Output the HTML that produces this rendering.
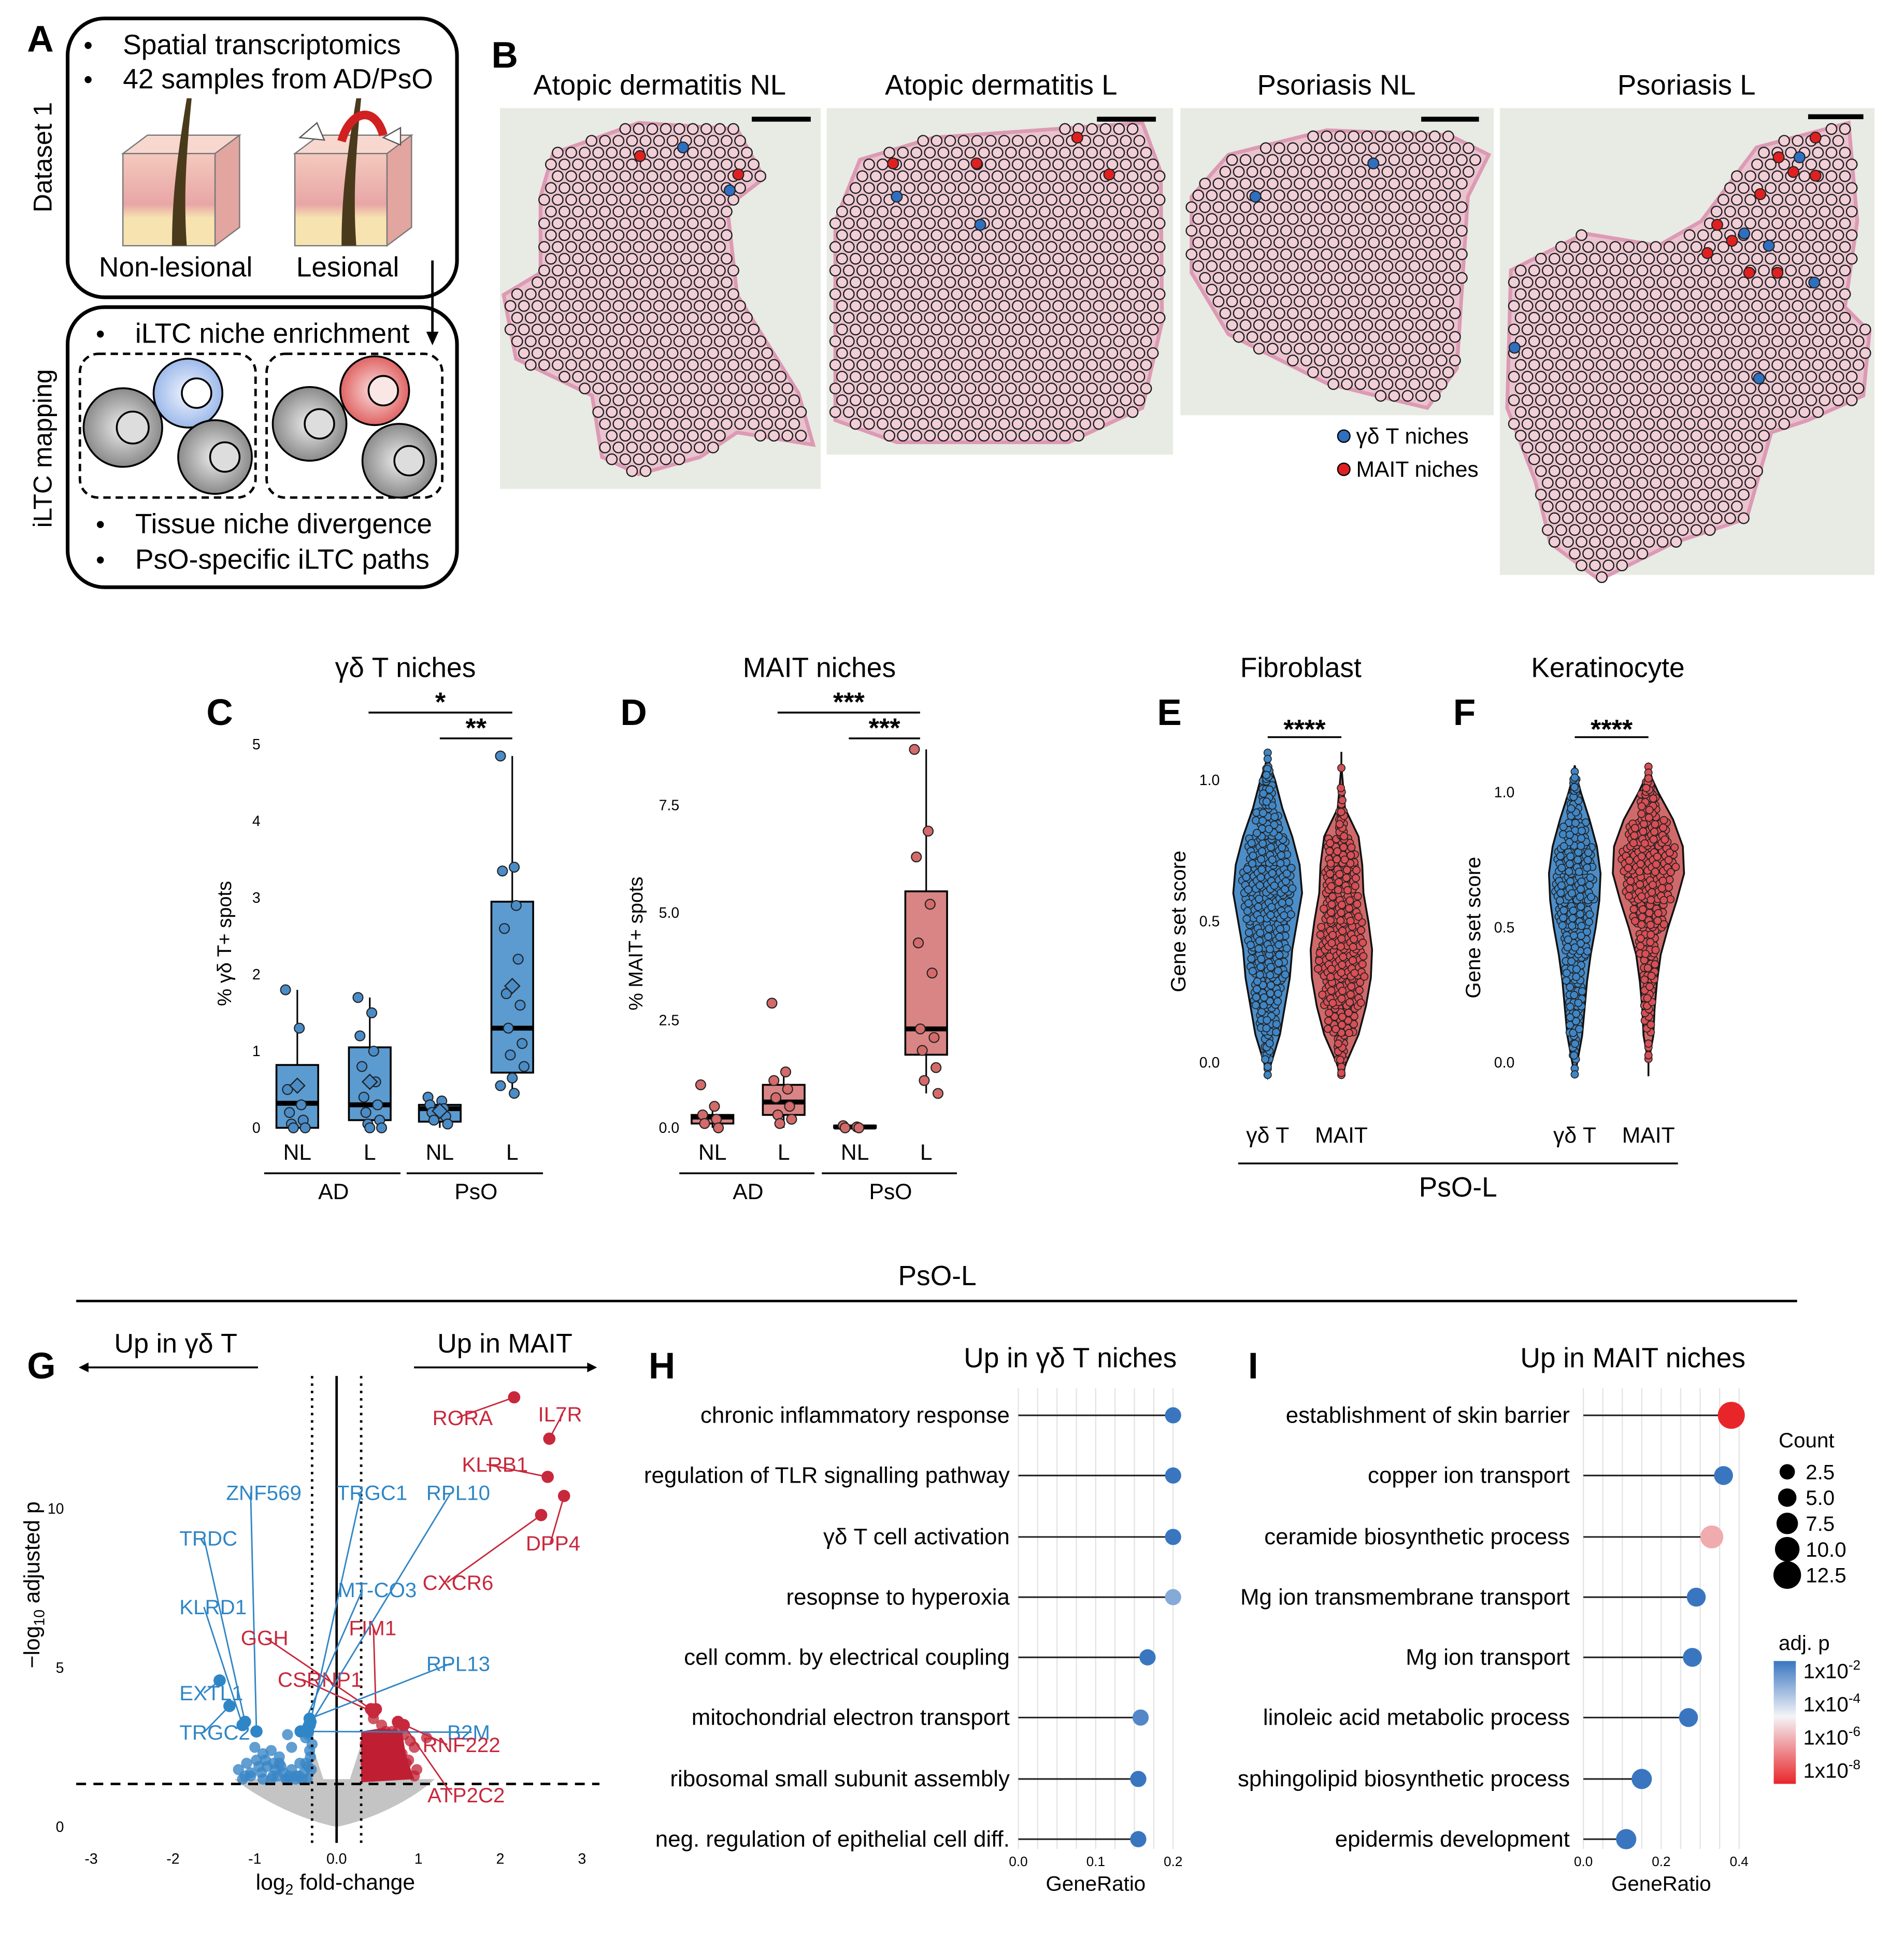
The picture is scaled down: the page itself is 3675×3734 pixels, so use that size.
<!DOCTYPE html>
<html><head><meta charset="utf-8">
<style>
html,body{margin:0;padding:0;background:#fff}
svg{display:block;font-family:"Liberation Sans",Arial,sans-serif}
</style></head>
<body>
<svg id="fig" width="3675" height="3734" viewBox="0 0 1550 1575" xmlns="http://www.w3.org/2000/svg">
<defs>
<linearGradient id="skinG" x1="0" y1="0" x2="0" y2="1"><stop offset="0" stop-color="#f4c9bd"/><stop offset="0.55" stop-color="#e8a6a6"/><stop offset="0.7" stop-color="#f7e3b0"/><stop offset="1" stop-color="#f7e3b0"/></linearGradient>
<radialGradient id="grayCell"><stop offset="0" stop-color="#eee"/><stop offset="1" stop-color="#8a8a8a"/></radialGradient>
<radialGradient id="blueCell"><stop offset="0" stop-color="#f2f6ff"/><stop offset="1" stop-color="#9db9ea"/></radialGradient>
<radialGradient id="redCell"><stop offset="0" stop-color="#fbe0e0"/><stop offset="1" stop-color="#e06464"/></radialGradient>
<linearGradient id="cbar" x1="0" y1="0" x2="0" y2="1"><stop offset="0" stop-color="#3a76c0"/><stop offset="0.45" stop-color="#f4f4f8"/><stop offset="1" stop-color="#e8262a"/></linearGradient>
</defs>

<g>
<text x="22" y="42" font-size="30" font-weight="bold">A</text>
<rect x="55" y="15" width="317" height="227" rx="30" fill="none" stroke="#000" stroke-width="3"/>
<text transform="translate(42,128) rotate(-90)" text-anchor="middle" font-size="21">Dataset 1</text>
<text x="68" y="44" font-size="21">•</text><text x="100" y="44" font-size="22.5">Spatial transcriptomics</text>
<text x="68" y="72" font-size="21">•</text><text x="100" y="72" font-size="22.5">42 samples from AD/PsO</text>
<g>
<polygon points="100,125 120,110 195,110 175,125" fill="#f7d7ce" stroke="#777"/>
<polygon points="175,125 195,110 195,185 175,200" fill="#e2a5a0" stroke="#777"/>
<rect x="100" y="125" width="75" height="75" fill="url(#skinG)" stroke="#777"/>
<path d="M140,200 C140,170 142,140 152,80 L156,80 C150,140 150,170 152,200 Z" fill="#4a3a1c"/>
</g>
<g>
<polygon points="240,125 260,110 335,110 315,125" fill="#f7d7ce" stroke="#777"/>
<polygon points="315,125 335,110 335,185 315,200" fill="#e2a5a0" stroke="#777"/>
<rect x="240" y="125" width="75" height="75" fill="url(#skinG)" stroke="#777"/>
<path d="M278,200 C278,170 280,140 290,80 L294,80 C288,140 288,170 290,200 Z" fill="#4a3a1c"/>
<path d="M278,115 C285,90 305,85 312,110" fill="none" stroke="#d02020" stroke-width="7"/>
<polygon points="244,112 258,100 264,114" fill="#fff" stroke="#555"/>
<polygon points="312,112 326,104 326,118" fill="#fff" stroke="#555"/>
</g>
<text x="143" y="225" text-anchor="middle" font-size="22.5">Non-lesional</text>
<text x="283" y="225" text-anchor="middle" font-size="22.5">Lesional</text>
<line x1="352" y1="212" x2="352" y2="272" stroke="#000" stroke-width="2"/>
<polygon points="347,270 357,270 352,281" fill="#000"/>
<rect x="55" y="250" width="317" height="228" rx="30" fill="none" stroke="#000" stroke-width="3"/>
<text transform="translate(42,365) rotate(-90)" text-anchor="middle" font-size="21">iLTC mapping</text>
<text x="78" y="279" font-size="21">•</text><text x="110" y="279" font-size="22.5">iLTC niche enrichment</text>
<rect x="65" y="288" width="143" height="117" rx="15" fill="none" stroke="#000" stroke-width="2" stroke-dasharray="6,4"/>
<rect x="217" y="288" width="143" height="117" rx="15" fill="none" stroke="#000" stroke-width="2" stroke-dasharray="6,4"/>
<g stroke="#000" stroke-width="1.5">
<circle cx="100" cy="348" r="32" fill="url(#grayCell)"/><circle cx="108" cy="348" r="13" fill="#ddd"/>
<circle cx="153" cy="320" r="28" fill="url(#blueCell)"/><circle cx="160" cy="320" r="12" fill="#fff"/>
<circle cx="175" cy="372" r="30" fill="url(#grayCell)"/><circle cx="183" cy="372" r="12" fill="#ddd"/>
<circle cx="252" cy="345" r="30" fill="url(#grayCell)"/><circle cx="260" cy="345" r="12" fill="#ddd"/>
<circle cx="305" cy="318" r="28" fill="url(#redCell)"/><circle cx="312" cy="318" r="12" fill="#fbe6e6"/>
<circle cx="325" cy="375" r="30" fill="url(#grayCell)"/><circle cx="333" cy="375" r="12" fill="#ddd"/>
</g>
<text x="78" y="434" font-size="21">•</text><text x="110" y="434" font-size="22.5">Tissue niche divergence</text>
<text x="78" y="463" font-size="21">•</text><text x="110" y="463" font-size="22.5">PsO-specific iLTC paths</text>
</g>

<g id="panelB">
<text x="400" y="55" font-size="30" font-weight="bold">B</text>
<text x="537" y="77" text-anchor="middle" font-size="23">Atopic dermatitis NL</text>
<text x="815" y="77" text-anchor="middle" font-size="23">Atopic dermatitis L</text>
<text x="1088" y="77" text-anchor="middle" font-size="23">Psoriasis NL</text>
<text x="1373" y="77" text-anchor="middle" font-size="23">Psoriasis L</text>
</g>
<g>
<text x="1104" y="361" font-size="18">γδ T niches</text>
<circle cx="1094" cy="355" r="5" fill="#2f6fc0" stroke="#000"/>
<text x="1104" y="388" font-size="18">MAIT niches</text>
<circle cx="1094" cy="382" r="5" fill="#e02020" stroke="#000"/>
</g>

<g id="panelCD">
<text x="330" y="551" text-anchor="middle" font-size="22.5">γδ T niches</text>
<text x="168" y="590" font-size="30" font-weight="bold">C</text>
<text x="667" y="551" text-anchor="middle" font-size="22.5">MAIT niches</text>
<text x="505" y="590" font-size="30" font-weight="bold">D</text>
</g>
<g id="panelEF">
<text x="1059" y="551" text-anchor="middle" font-size="22.5">Fibroblast</text>
<text x="942" y="590" font-size="30" font-weight="bold">E</text>
<text x="1309" y="551" text-anchor="middle" font-size="22.5">Keratinocyte</text>
<text x="1183" y="590" font-size="30" font-weight="bold">F</text>
<line x1="1008" y1="947" x2="1366" y2="947" stroke="#000" stroke-width="1.5"/>
<text x="1187" y="974" text-anchor="middle" font-size="22.5">PsO-L</text>
</g>

<text x="763" y="1046" text-anchor="middle" font-size="22.5">PsO-L</text>
<line x1="62" y1="1059" x2="1463" y2="1059" stroke="#000" stroke-width="2"/>

<g id="panelG">
<text x="22" y="1122" font-size="30" font-weight="bold">G</text>
<text x="143" y="1101" text-anchor="middle" font-size="22">Up in γδ T</text>
<line x1="210" y1="1113" x2="70" y2="1113" stroke="#000" stroke-width="1.5"/><polygon points="64,1113 72,1109 72,1117" fill="#000"/>
<text x="411" y="1101" text-anchor="middle" font-size="22">Up in MAIT</text>
<line x1="337" y1="1113" x2="480" y2="1113" stroke="#000" stroke-width="1.5"/><polygon points="486,1113 478,1109 478,1117" fill="#000"/>
</g>

<g id="panelH">
<text x="528" y="1122" font-size="30" font-weight="bold">H</text>
<text x="958" y="1113" text-anchor="end" font-size="22.5">Up in γδ T niches</text>
</g>
<g id="panelI">
<text x="1016" y="1122" font-size="30" font-weight="bold">I</text>
<text x="1421" y="1113" text-anchor="end" font-size="22.5">Up in MAIT niches</text>
<text x="1448" y="1178" font-size="17">Count</text>
<text x="1448" y="1343" font-size="17">adj. p</text>
<rect x="1444" y="1352" width="18" height="100" fill="url(#cbar)"/>
</g>
</svg>
<script>
const NS='http://www.w3.org/2000/svg';
const fig=document.getElementById('fig');
function mk(tag,attrs,parent){const e=document.createElementNS(NS,tag);for(const k in attrs)e.setAttribute(k,attrs[k]);(parent||fig).appendChild(e);return e;}
function txt(s,attrs,parent){const e=mk('text',attrs,parent);e.textContent=s;return e;}

/* ---------- Panel B data ---------- */
const tissueFrames=[[407,88,261,310],[673,88,282,282],[961,88,255,250],[1221,88,305,380]];
const tissueOutlines=[
 [[450,125],[520,100],[600,105],[622,145],[592,168],[600,240],[650,320],[662,362],[600,352],[570,372],[520,386],[490,372],[482,322],[420,292],[410,240],[440,222],[440,160]],
 [[680,180],[700,130],[760,112],[930,100],[945,140],[946,262],[930,332],[870,360],[730,360],[680,342],[680,252]],
 [[970,160],[1000,126],[1080,106],[1180,110],[1212,126],[1195,160],[1186,300],[1162,332],[1120,322],[1080,312],[1000,272],[970,222]],
 [[1385,180],[1430,120],[1505,100],[1512,180],[1502,250],[1522,270],[1517,322],[1472,342],[1442,352],[1422,422],[1362,442],[1302,472],[1262,442],[1250,392],[1227,332],[1230,220],[1290,190],[1350,200]]];
const scaleBars=[[612,660,97],[893,941,97],[1157,1204,97],[1472,1517,95]];
const gdSpots=[[556,120],[594,155],[730,160],[798,183],[1118,133],[1022,160],[1465,128],[1420,190],[1440,200],[1477,230],[1432,308],[1233,283]];
const maitSpots=[[521,127],[601,142],[727,133],[795,133],[877,112],[903,142],[1398,183],[1410,196],[1433,158],[1448,128],[1460,140],[1478,112],[1390,206],[1424,222],[1447,222],[1478,143]];

function inPoly(x,y,p){let c=false;for(let i=0,j=p.length-1;i<p.length;j=i++){const xi=p[i][0],yi=p[i][1],xj=p[j][0],yj=p[j][1];if(((yi>y)!=(yj>y))&&(x<(xj-xi)*(y-yi)/(yj-yi)+xi))c=!c;}return c;}
const gB=document.getElementById('panelB');
tissueFrames.forEach((f,i)=>{
  const r=mk('rect',{x:f[0],y:f[1],width:f[2],height:f[3],fill:'#e8eae4'},gB);
  
  
  const o=tissueOutlines[i];
  const pg=mk('polygon',{points:o.map(p=>p.join(',')).join(' '),fill:'#eac3cf',stroke:'#dc9ab4','stroke-width':3},gB);
  
  
  const xs=o.map(p=>p[0]),ys=o.map(p=>p[1]);
  const g=mk('g',{},gB);
  
  
  let row=0;
  for(let y=Math.min(...ys)+5;y<Math.max(...ys);y+=9.6,row++){
    for(let x=Math.min(...xs)+(row%2?5.5:0);x<Math.max(...xs);x+=11){
      if(inPoly(x,y,o)) mk('circle',{cx:x.toFixed(1),cy:y.toFixed(1),r:4.3,fill:'#f1cfd6',stroke:'#1e1e1e','stroke-width':1},g);
    }
  }
  const s=scaleBars[i];
  const sb=mk('line',{x1:s[0],y1:s[2],x2:s[1],y2:s[2],stroke:'#000','stroke-width':4},gB);
  
  
});
gdSpots.forEach(p=>{const c=mk('circle',{cx:p[0],cy:p[1],r:4.4,fill:'#2f6fc0',stroke:'#222','stroke-width':0.9},gB);
  
  });
maitSpots.forEach(p=>{const c=mk('circle',{cx:p[0],cy:p[1],r:4.4,fill:'#e02020',stroke:'#222','stroke-width':0.9},gB);
  
  });

/* ---------- Panels C, D data ---------- */
const boxCategories=['NL','L','NL','L'];
const gdBoxStats=[[0,0,0.32,0.82,1.8],[0,0.1,0.3,1.05,1.7],[0,0.08,0.25,0.3,0.4],[0.45,0.72,1.3,2.95,4.85]];
const gdMeans=[0.55,0.6,0.22,1.85];
const gdPoints=[[1.8,1.3,0.5,0.3,0.2,0.1,0.05,0,0],[1.7,1.5,1.2,1.0,0.8,0.6,0.4,0.3,0.2,0.1,0.05,0,0],[0.4,0.35,0.3,0.25,0.2,0.15,0.1,0.05],[4.85,3.4,3.35,2.9,2.6,2.2,1.75,1.6,1.3,1.1,0.95,0.8,0.65,0.55,0.45]];
const gdTicks=[0,1,2,3,4,5];
const maitBoxStats=[[0,0.1,0.25,0.3,0.5],[0,0.3,0.6,1.0,1.3],[0,0,0.02,0.05,0.08],[0.8,1.7,2.3,5.5,8.8]];
const maitPoints=[[1.0,0.5,0.3,0.2,0.1,0],[2.9,1.3,1.1,0.9,0.7,0.5,0.3,0.2,0.1],[0.05,0.02,0,0],[8.8,6.9,6.3,5.2,4.3,3.6,2.3,2.1,1.8,1.4,1.1,0.8]];
const maitTicks=[0,2.5,5.0,7.5];

function boxPanel(o){
  const g=mk('g',{});
  
  
  const y=v=>o.y0-v*o.k;
  o.ticks.forEach(t=>{const e=txt(o.fmt(t),{x:o.tx,y:y(t)+4,'text-anchor':'end','font-size':12},g);
    
    });
  const yl=txt(o.ylab,{transform:'translate('+o.lx+','+(o.y0-150)+') rotate(-90)','text-anchor':'middle','font-size':16},g);
  
  
  o.stats.forEach((s,i)=>{
    const cx=o.xs[i],w=17;
    mk('line',{x1:cx,x2:cx,y1:y(s[0]),y2:y(s[4]),stroke:'#000','stroke-width':1.3},g);
    const b=mk('rect',{x:cx-w,y:y(s[3]),width:2*w,height:Math.max(1,y(s[1])-y(s[3])),fill:o.fill,stroke:'#000','stroke-width':1.5},g);
    
    
    mk('line',{x1:cx-w,x2:cx+w,y1:y(s[2]),y2:y(s[2]),stroke:'#000','stroke-width':4},g);
    o.pts[i].forEach((v,j)=>{const dx=((j*7)%13-6)*1.6;
      const c=mk('circle',{cx:cx+dx,cy:y(v),r:4,fill:o.pfill,stroke:'#222','stroke-width':0.9},g);
      
      });
    if(o.means){const m=y(o.means[i]);const d=mk('polygon',{points:cx+','+(m-6)+' '+(cx+6)+','+m+' '+cx+','+(m+6)+' '+(cx-6)+','+m,fill:o.pfill,stroke:'#222'},g);
      
      }
    const l=txt(boxCategories[i],{x:cx,y:944,'text-anchor':'middle','font-size':18},g);
    
    
  });
  mk('line',{x1:o.xs[0]-27,x2:o.xs[1]+25,y1:955,y2:955,stroke:'#000','stroke-width':1.5},g);
  mk('line',{x1:o.xs[2]-27,x2:o.xs[3]+25,y1:955,y2:955,stroke:'#000','stroke-width':1.5},g);
  const a=txt('AD',{x:(o.xs[0]+o.xs[1])/2,y:976,'text-anchor':'middle','font-size':18},g);
  
  
  const p=txt('PsO',{x:(o.xs[2]+o.xs[3])/2,y:976,'text-anchor':'middle','font-size':18},g);
  
  
  o.sig.forEach(s=>{mk('line',{x1:s[0],x2:s[1],y1:s[2],y2:s[2],stroke:'#000','stroke-width':1.5},g);
    const t=txt(s[3],{x:(s[0]+s[1])/2,y:s[2]-1,'text-anchor':'middle','font-size':22,'font-weight':'bold'},g);
    
    });
}
boxPanel({name:'gd-boxplot',y0:918,k:62.4,ticks:gdTicks,fmt:t=>String(t),tx:212,lx:188,ylab:'% γδ T+ spots',xs:[242,301,358,417],stats:gdBoxStats,pts:gdPoints,means:gdMeans,fill:'#5b9bd0',pfill:'#4a8cc8',sig:[[300,417,580,'*'],[358,417,601,'**']]});
boxPanel({name:'mait-boxplot',y0:918,k:35,ticks:maitTicks,fmt:t=>t.toFixed(1),tx:553,lx:523,ylab:'% MAIT+ spots',xs:[580,638,696,754],stats:maitBoxStats,pts:maitPoints,means:null,fill:'#d98585',pfill:'#d46a6a',sig:[[633,749,580,'***'],[691,749,601,'***']]});

/* ---------- Panels E, F data ---------- */
const violinLevels=[-0.05,0,0.1,0.2,0.3,0.4,0.5,0.6,0.7,0.8,0.9,1.0,1.05,1.1];
const fibroGdDensity=[0,3,10,14,18,20,24,28,26,20,12,6,2,0];
const fibroMaitDensity=[0,4,14,20,24,25,22,18,17,14,3,1,0,0];
const keraGdDensity=[0,2,6,8,10,13,17,20,21,18,12,5,2,0];
const keraMaitDensity=[0,0,4,5,7,10,16,23,29,28,20,8,3,0];
const scoreTicks=[0,0.5,1.0];

function violin(g,cx,y,dens,col,name){
  let r=[],l=[];
  violinLevels.forEach((v,i)=>{r.push([cx+dens[i],y(v)]);l.push([cx-dens[i],y(v)]);});
  const pts=r.concat(l.reverse());
  const p=mk('polygon',{points:pts.map(q=>q.map(n=>n.toFixed(1)).join(',')).join(' '),fill:col[0],stroke:'#111','stroke-width':1.5},g);
  
  
  const pg=mk('g',{},g);
  
  
  let seed=0;
  for(let i=0;i<violinLevels.length-1;i++){
    const w=Math.min(dens[i],dens[i+1])*0.8;const n=Math.round((dens[i]+dens[i+1])*1.1);
    for(let j=0;j<n;j++){seed++;const f=(seed*0.7548777)%1,h=(seed*0.5698403)%1;
      const v=violinLevels[i]+(violinLevels[i+1]-violinLevels[i])*h;
      mk('circle',{cx:(cx+(f*2-1)*w).toFixed(1),cy:y(v).toFixed(1),r:3,fill:col[1],stroke:'#222','stroke-width':0.7},pg);}
  }
}
function violinPanel(o){
  const g=mk('g',{});
  
  
  const y=v=>o.y0-v*o.k;
  scoreTicks.forEach(t=>{const e=txt(t.toFixed(1),{x:o.tx,y:y(t)+4,'text-anchor':'end','font-size':12},g);
    
    });
  const yl=txt('Gene set score',{transform:'translate('+o.lx+','+y(0.5)+') rotate(-90)','text-anchor':'middle','font-size':17},g);
  
  
  violin(g,o.xs[0],y,o.d[0],['#4d8ec8','#3f86c6'],'violin-gd');
  violin(g,o.xs[1],y,o.d[1],['#d06a6a','#d84f55'],'violin-mait');
  ['γδ T','MAIT'].forEach((s,i)=>{const t=txt(s,{x:o.xs[i],y:930,'text-anchor':'middle','font-size':18},g);
    
    });
  mk('line',{x1:o.xs[0],x2:o.xs[1],y1:600,y2:600,stroke:'#000','stroke-width':1.5},g);
  const s=txt('****',{x:(o.xs[0]+o.xs[1])/2,y:601,'text-anchor':'middle','font-size':22,'font-weight':'bold'},g);
  
  
}
violinPanel({name:'fibroblast-violin',y0:865,k:230,tx:993,lx:965,xs:[1032,1092],d:[fibroGdDensity,fibroMaitDensity]});
violinPanel({name:'keratinocyte-violin',y0:865,k:220,tx:1233,lx:1205,xs:[1282,1342],d:[keraGdDensity,keraMaitDensity]});

/* ---------- Panel G data ---------- */
const volcanoXTicks=[-3,-2,-1,0,1,2,3];
const volcanoYTicks=[0,5,10];
const labelledGenes=['RORA','IL7R','KLRB1','DPP4','CXCR6','EXTL1','TRGC2','TRDC','KLRD1','ZNF569','GGH','FIM1','CSRNP1','RPL13','B2M','RNF222','ATP2C2','TRGC1','RPL10','MT-CO3'];
const geneFC=[2.17,2.6,2.58,2.78,2.5,-1.43,-1.31,-1.12,-1.15,-0.98,0.42,0.48,0.45,-0.33,-0.35,0.75,0.82,-0.32,-0.33,-0.44];
const geneP=[13.5,12.2,11.0,10.4,9.8,4.6,3.8,3.3,3.2,3.0,3.7,3.7,3.6,3.4,3.0,3.3,3.2,3.3,3.2,3.0];
const geneLabelPos=[[352,1160],[438,1157],[376,1198],[428,1262],[344,1294],[146,1384],[146,1416],[146,1258],[146,1314],[184,1221],[196,1339],[284,1331],[226,1373],[347,1360],[364,1416],[344,1426],[348,1467],[274,1221],[347,1221],[275,1300]];
const upGdFC=[-0.6,-0.38,-0.35,-0.3,-1.0,-0.9,-0.8,-0.7,-0.55,-1.1,-0.95,-0.75,-0.45,-0.65,-1.2,-0.85,-0.5,-0.32,-1.05,-0.6,-0.4,-0.78,-0.92,-0.35,-0.68,-1.15,-1.05,-0.9,-0.8,-0.72,-0.62,-0.5,-0.42,-0.36,-0.31,-0.98,-0.87,-0.77,-0.58,-0.46,-1.12,-0.7,-0.33,-0.38,-0.55];
const upGdP=[2.9,2.8,2.9,2.6,2.5,2.3,2.4,2.2,2.5,2.0,1.9,1.8,2.0,1.7,1.8,1.9,1.6,2.2,1.6,1.5,1.7,1.6,1.7,1.9,1.9,1.5,1.7,1.5,1.5,1.6,1.5,1.5,1.5,1.5,1.8,2.1,2.1,2.0,1.6,1.6,1.6,2.0,2.4,2.0,1.8];
const upMaitFC=[0.45,0.55,0.6,0.68,0.75,0.82,0.9,0.95,1.1,0.35,0.4,0.5,0.58,0.65,0.72,0.8,0.88,0.98,0.36,0.45,0.55,0.7,0.85,0.95,0.38];
const upMaitP=[3.4,3.2,3.0,3.0,3.0,2.9,2.7,2.5,2.8,2.6,2.3,2.5,2.2,2.4,2.6,2.3,2.1,1.8,2.0,1.9,1.7,1.8,2.0,1.6,1.6];
const upMaitGenes=['RORA','IL7R','KLRB1','DPP4','CXCR6','GGH','FIM1','CSRNP1','RNF222','ATP2C2'];

(function(){
  const g=document.getElementById('panelG');
  const X=v=>274+v*66.6, Y=v=>1487-v*25.9;
  volcanoXTicks.forEach(t=>{const e=txt(t===0?'0.0':String(t),{x:X(t),y:1517,'text-anchor':'middle','font-size':12},g);
    
    });
  volcanoYTicks.forEach(t=>{const e=txt(String(t),{x:52,y:Y(t)+4,'text-anchor':'end','font-size':12},g);
    
    });
  const xl=mk('text',{x:273,y:1538,'text-anchor':'middle','font-size':18},g);
  xl.innerHTML='log<tspan font-size="12" dy="4">2</tspan><tspan dy="-4"> fold-change</tspan>';
  
  
  const yl=mk('text',{transform:'translate(32,1290) rotate(-90)','text-anchor':'middle','font-size':18},g);
  yl.innerHTML='−log<tspan font-size="12" dy="4">10</tspan><tspan dy="-4"> adjusted p</tspan>';
  
  
  const cloud=mk('path',{d:'M'+X(-1.25)+','+Y(1.5)+' L'+X(1.2)+','+Y(1.5)+' C'+X(0.9)+','+Y(0.8)+' '+X(0.4)+','+Y(0.2)+' '+X(0)+','+Y(0)+' C'+X(-0.4)+','+Y(0.2)+' '+X(-0.9)+','+Y(0.8)+' '+X(-1.25)+','+Y(1.5)+' Z',fill:'#c4c4c4'},g);
  
  
  mk('path',{d:'M'+X(-0.4)+','+Y(1.4)+' L'+X(-0.3)+','+Y(2.6)+' L'+X(-0.1)+','+Y(1.0)+' L'+X(0.1)+','+Y(1.0)+' L'+X(0.3)+','+Y(2.6)+' L'+X(0.4)+','+Y(1.4)+' Z',fill:'#c4c4c4'},g);
  const redBlob=mk('path',{d:'M'+X(0.3)+','+Y(1.4)+' L'+X(0.3)+','+Y(3.0)+' L'+X(0.55)+','+Y(3.1)+' L'+X(0.8)+','+Y(3.0)+' L'+X(0.85)+','+Y(2.2)+' L'+X(0.95)+','+Y(1.5)+' Z',fill:'#c01f33'},g);
  
  
  upGdFC.forEach((v,i)=>{const c=mk('circle',{cx:X(v),cy:Y(upGdP[i]),r:4.5,fill:'#3a86c6',opacity:0.8},g);
    
    });
  upMaitFC.forEach((v,i)=>{const c=mk('circle',{cx:X(v),cy:Y(upMaitP[i]),r:4.5,fill:'#c01f33',opacity:0.75},g);
    
    });
  mk('line',{x1:274,x2:274,y1:1120,y2:1500,stroke:'#000','stroke-width':2},g);
  mk('line',{x1:X(-0.3),x2:X(-0.3),y1:1120,y2:1500,stroke:'#000','stroke-width':2,'stroke-dasharray':'2,4'},g);
  mk('line',{x1:X(0.3),x2:X(0.3),y1:1120,y2:1500,stroke:'#000','stroke-width':2,'stroke-dasharray':'2,4'},g);
  mk('line',{x1:62,x2:488,y1:Y(1.35),y2:Y(1.35),stroke:'#000','stroke-width':2,'stroke-dasharray':'8,6'},g);
  labelledGenes.forEach((n,i)=>{
    const up=upMaitGenes.indexOf(n)>=0;
    const col=up?'#c8283c':'#2f86c6';
    const px=X(geneFC[i]),py=Y(geneP[i]);const L=geneLabelPos[i];
    mk('line',{x1:px,y1:py,x2:L[0]+20,y2:L[1]-6,stroke:col,'stroke-width':1.2},g);
    const c=mk('circle',{cx:px,cy:py,r:5,fill:col},g);
    
    
    const t=txt(n,{x:L[0],y:L[1],'font-size':17,fill:col},g);
    
    
  });
})();

/* ---------- Panels H, I data ---------- */
const gdTerms=['chronic inflammatory response','regulation of TLR signalling pathway','γδ T cell activation','resopnse to hyperoxia','cell comm. by electrical coupling','mitochondrial electron transport','ribosomal small subunit assembly','neg. regulation of epithelial cell diff.'];
const gdRatio=[0.2,0.2,0.2,0.2,0.167,0.158,0.155,0.155];
const gdCount=[2,2,2,2,2,2,2,2];
const gdLogP=[2,2,2,3.2,2,2.4,2,2];
const maitTerms=['establishment of skin barrier','copper ion transport','ceramide biosynthetic process','Mg ion transmembrane transport','Mg ion transport','linoleic acid metabolic process','sphingolipid biosynthetic process','epidermis development'];
const maitRatio=[0.38,0.36,0.33,0.29,0.28,0.27,0.15,0.11];
const maitCount=[10,4,7,4,4,4,5,5];
const maitLogP=[8.5,2,6.2,2,2,2,2,2];
const ratioTicks=[0,0.1,0.2];
const ratioTicksI=[0,0.2,0.4];
const countLegend=[2.5,5.0,7.5,10.0,12.5];
const adjpLegend=['-2','-4','-6','-8'];

function pcol(lp){
  const t=Math.max(0,Math.min(1,(lp-2)/6.5));
  const a=[58,118,192],w=[244,244,248],r=[232,38,42];
  const m=t<0.45?a.map((v,i)=>v+(w[i]-v)*t/0.45):w.map((v,i)=>v+(r[i]-v)*(t-0.45)/0.55);
  return 'rgb('+m.map(Math.round).join(',')+')';
}
const rowY=[1152,1201,1251,1300,1349,1398,1448,1497];
function lolli(g,o){
  const X=v=>o.x0+v*o.k;
  for(let v=0;v<=o.max+1e-9;v+=o.grid){mk('line',{x1:X(v),x2:X(v),y1:1130,y2:1505,stroke:'#e4e4e4','stroke-width':1},g);}
  o.ticks.forEach(t=>{const e=txt(t.toFixed(1),{x:X(t),y:1519,'text-anchor':'middle','font-size':11},g);
    
    });
  const xl=txt('GeneRatio',{x:X(o.ticks[1]),y:1539,'text-anchor':'middle','font-size':17},g);
  
  
  o.terms.forEach((s,i)=>{
    const y=rowY[i];
    const t=txt(s,{x:o.lx,y:y+6,'text-anchor':'end','font-size':18.5},g);
    
    
    mk('line',{x1:X(0),x2:X(o.ratio[i]),y1:y,y2:y,stroke:'#222','stroke-width':1.3},g);
    const c=mk('circle',{cx:X(o.ratio[i]),cy:y,r:5.5+o.count[i]*0.55,fill:pcol(o.lp[i])},g);
    
    
  });
}
lolli(document.getElementById('panelH'),{x0:829,k:630,max:0.2,grid:0.025,ticks:ratioTicks,terms:gdTerms,ratio:gdRatio,count:gdCount,lp:gdLogP,lx:822});
lolli(document.getElementById('panelI'),{x0:1289,k:317,max:0.4,grid:0.05,ticks:ratioTicksI,terms:maitTerms,ratio:maitRatio,count:maitCount,lp:maitLogP,lx:1278});
(function(){
  const g=document.getElementById('panelI');
  countLegend.forEach((v,i)=>{const y=1198+i*21;
    const c=mk('circle',{cx:1455,cy:y,r:5+v*0.5,fill:'#000'},g);
    
    
    const t=txt(v.toFixed(1),{x:1470,y:y+6,'font-size':17},g);
    
    });
  adjpLegend.forEach((v,i)=>{const t=mk('text',{x:1468,y:1366+i*27,'font-size':17},g);
    t.innerHTML='1x10<tspan font-size="11" dy="-7">'+v+'</tspan>';
    
    });
})();
</script>
</body></html>
